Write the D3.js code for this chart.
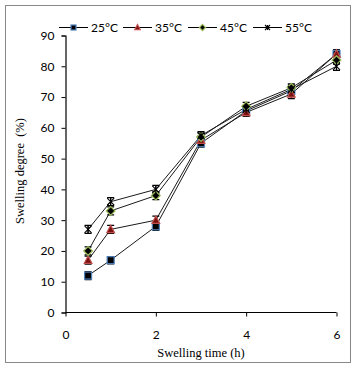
<!DOCTYPE html>
<html><head><meta charset="utf-8">
<script src="https://cdn.jsdelivr.net/npm/d3@7"></script>
<style>body{margin:0;background:#fff}svg{display:block}</style>
</head><body>
<script>
const times = [0.5, 1, 2, 3, 4, 5, 6];
const seriesNames = ["25°C", "35°C", "45°C", "55°C"];
const s25 = [12, 17, 28, 55, 65.5, 72, 84];
const s35 = [17, 27, 30, 56, 65, 71, 84];
const s45 = [20, 33, 38, 57, 67, 73, 82];
const s55 = [27, 36, 40, 57.5, 66, 72.5, 80];
const e25 = [1.3, 1.2, 1.3, 1.3, 1.3, 1.5, 1.3];
const e35 = [1.3, 1.3, 1.3, 1.3, 1.3, 1.5, 1.3];
const e45 = [1.3, 1.3, 1.3, 1.3, 1.3, 1.3, 1.3];
const e55 = [1.3, 1.3, 1.3, 1.3, 1.3, 1.5, 1.3];
const xTicks = [0, 2, 4, 6];
const yTicks = [0, 10, 20, 30, 40, 50, 60, 70, 80, 90];

const W = 356, H = 368;
const svg = d3.select("body").append("svg").attr("width", W).attr("height", H);
svg.append("rect").attr("x", 5.5).attr("y", 5.5).attr("width", 345).attr("height", 357)
  .attr("fill", "#fff").attr("stroke", "#888").attr("stroke-width", 1);

const x = d3.scaleLinear().domain([0, 6]).range([65.5, 336.5]);
const y = d3.scaleLinear().domain([0, 90]).range([312.5, 35.5]);

const tickFont = "Lato, 'Liberation Sans', sans-serif";
const titleFont = "'Liberation Serif', 'DejaVu Serif', serif";

const gx = svg.append("g").attr("transform", "translate(0,312.5)")
  .call(d3.axisBottom(x).tickValues(xTicks).tickSize(4).tickPadding(14).tickFormat(d3.format("d")));
const gy = svg.append("g").attr("transform", "translate(65.5,0)")
  .call(d3.axisLeft(y).tickValues(yTicks).tickSize(4).tickPadding(7).tickFormat(d3.format("d")));
[gx, gy].forEach(g => {
  g.select(".domain").attr("stroke", "#000").attr("stroke-width", 1.2);
  g.selectAll(".tick line").attr("stroke", "#000");
  g.selectAll("text").attr("font-family", tickFont).attr("font-size", 12).attr("fill", "#000");
});
gx.select(".domain").attr("d", "M65.5,0H336.5");

svg.append("text").attr("x", 201).attr("y", 357).attr("text-anchor", "middle")
  .attr("font-family", titleFont).attr("font-size", 12.5).text("Swelling time (h)");
svg.append("text").attr("transform", "translate(24,171) rotate(-90)").attr("text-anchor", "middle")
  .attr("font-family", titleFont).attr("font-size", 12.5).attr("xml:space", "preserve").text("Swelling degree  (%)");

const data = [
  {name: seriesNames[0], vals: s25, errs: e25, marker: "square"},
  {name: seriesNames[1], vals: s35, errs: e35, marker: "triangle"},
  {name: seriesNames[2], vals: s45, errs: e45, marker: "diamond"},
  {name: seriesNames[3], vals: s55, errs: e55, marker: "star"}
];

function drawMarker(g, type, cx, cy, s) {
  if (type === "square") {
    g.append("rect").attr("x", cx - s/2).attr("y", cy - s/2).attr("width", s).attr("height", s)
      .attr("fill", "#000").attr("stroke", "#4F81BD").attr("stroke-width", 1.2);
  } else if (type === "triangle") {
    const h = s * 1.0;
    g.append("path").attr("d", `M${cx},${cy - h*0.6}L${cx + s*0.55},${cy + h*0.45}L${cx - s*0.55},${cy + h*0.45}Z`)
      .attr("fill", "#7a1010").attr("stroke", "#C0504D").attr("stroke-width", 1.2);
  } else if (type === "diamond") {
    const r = s * 0.62;
    g.append("path").attr("d", `M${cx},${cy - r}L${cx + r},${cy}L${cx},${cy + r}L${cx - r},${cy}Z`)
      .attr("fill", "#000").attr("stroke", "#9BBB59").attr("stroke-width", 1.2);
  } else {
    const r = s * 0.5;
    g.append("path").attr("d", `M${cx - r},${cy - r}L${cx + r},${cy + r}M${cx - r},${cy + r}L${cx + r},${cy - r}M${cx},${cy - r}L${cx},${cy + r}`)
      .attr("stroke", "#000").attr("stroke-width", 1.1).attr("fill", "none");
  }
}

const line = d3.line().x((d, i) => x(times[i])).y(d => y(d));
const plot = svg.append("g");
data.forEach(s => {
  plot.append("path").datum(s.vals).attr("d", line).attr("fill", "none")
    .attr("stroke", "#1a1a1a").attr("stroke-width", 1);
});
data.forEach(s => {
  const g = plot.append("g");
  s.vals.forEach((v, i) => {
    const cx = x(times[i]), y0 = y(v - s.errs[i]), y1 = y(v + s.errs[i]);
    g.append("path").attr("d", `M${cx},${y0}V${y1}M${cx-3.5},${y0}H${cx+3.5}M${cx-3.5},${y1}H${cx+3.5}`)
      .attr("stroke", "#000").attr("stroke-width", 1.2).attr("fill", "none");
  });
});
data.forEach(s => {
  const g = plot.append("g");
  s.vals.forEach((v, i) => drawMarker(g, s.marker, x(times[i]), y(v), 7));
});

// legend
const legX = [59, 123, 188, 253];
const leg = svg.append("g");
data.forEach((s, i) => {
  const lx = legX[i], ly = 27.5;
  leg.append("line").attr("x1", lx).attr("x2", lx + 29).attr("y1", ly).attr("y2", ly)
    .attr("stroke", "#000").attr("stroke-width", 1);
  drawMarker(leg, s.marker, lx + 14.5, ly, 5);
  leg.append("text").attr("x", lx + 32).attr("y", ly + 4.3).attr("font-family", tickFont)
    .attr("font-size", 12).text(s.name);
});
</script>
</body></html>
